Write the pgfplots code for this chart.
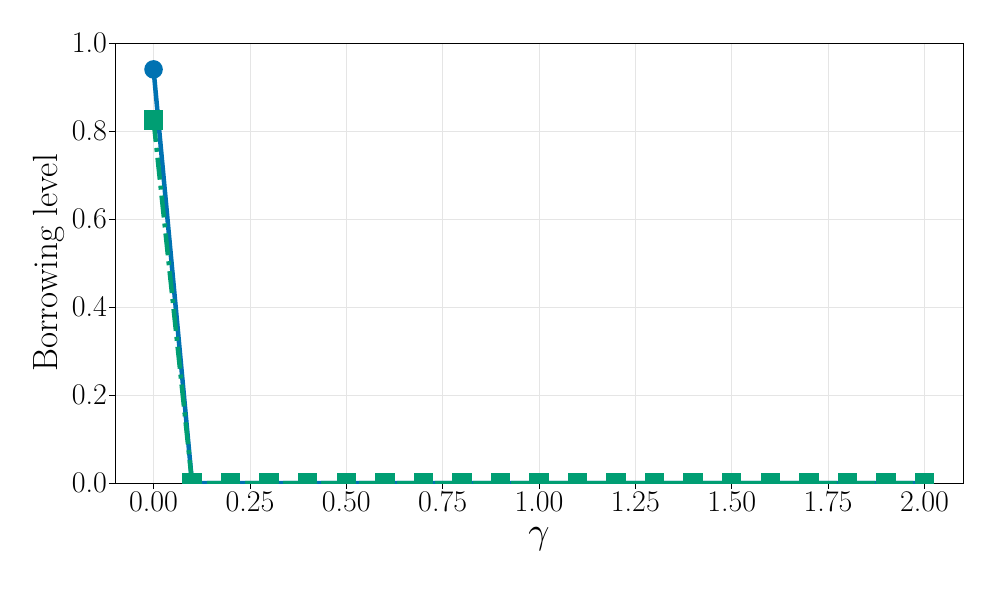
\documentclass[border=0pt]{standalone}
\usepackage{fontspec}
\usepackage{graphicx}
\usepackage{pgfplots}
\pgfplotsset{compat=1.18}
\definecolor{cbBlue}{HTML}{0072B2}
\definecolor{cbGreen}{HTML}{009E73}

\begin{document}
\begin{tikzpicture}
\path (-115pt,-107pt) rectangle (881pt,483pt);
\begin{axis}[
  at={(0,0)}, anchor=south west,
  scale only axis,
  width=848pt, height=440pt,
  xmin=-0.1, xmax=2.1,
  ymin=0, ymax=1,
  xtick={0,0.25,...,2.0},
  ytick={0,0.2,...,1.0},
  xticklabel={\pgfmathprintnumber[fixed,fixed zerofill,precision=2,assume math mode=true]{\tick}},
  yticklabel={\pgfmathprintnumber[fixed,fixed zerofill,precision=1,assume math mode=true]{\tick}},
  tick label style={font=\fontsize{30}{34}\selectfont},
  xticklabel style={inner sep=2pt},
  yticklabel style={inner sep=2pt},
  label style={font=\fontsize{35}{40}\selectfont},
  xlabel={{\normalsize\scalebox{3.7}{$\gamma$}}},
  ylabel={Borrowing level},
  xlabel style={yshift=-10pt},
  ylabel style={yshift=2pt},
  grid=major,
  grid style={black!10, line width=0.8pt},
  axis line style={black, line width=0.8pt},
  tick style={black, line width=0.8pt},
  tick align=outside,
  major tick length=6pt,
  xtick pos=bottom, ytick pos=left,
  clip=true, clip marker paths=true,
]
\addplot[cbBlue, line width=4.5pt, mark=*, mark size=7pt] coordinates {
  (0.0,0.94) (0.1,0) (0.2,0) (0.3,0) (0.4,0) (0.5,0) (0.6,0) (0.7,0) (0.8,0) (0.9,0)
  (1.0,0) (1.1,0) (1.2,0) (1.3,0) (1.4,0) (1.5,0) (1.6,0) (1.7,0) (1.8,0) (1.9,0) (2.0,0)};
\addplot[cbGreen, line width=4.5pt, dash pattern=on 22pt off 6pt on 4pt off 6pt,
  mark=square*, mark size=7.5pt, mark options={solid}] coordinates {
  (0.0,0.825) (0.1,0) (0.2,0) (0.3,0) (0.4,0) (0.5,0) (0.6,0) (0.7,0) (0.8,0) (0.9,0)
  (1.0,0) (1.1,0) (1.2,0) (1.3,0) (1.4,0) (1.5,0) (1.6,0) (1.7,0) (1.8,0) (1.9,0) (2.0,0)};
\end{axis}
\end{tikzpicture}
\end{document}
